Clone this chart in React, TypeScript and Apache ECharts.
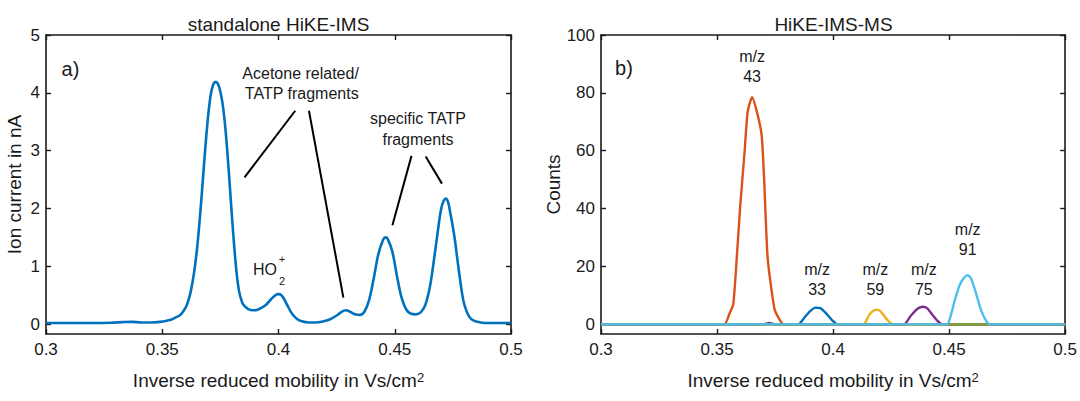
import React, { useEffect, useRef } from "react";
import * as echarts from "echarts";

const FONT = '"Liberation Sans", Arial, Helvetica, sans-serif';
const INK = "#1a1a1a";

// ---------- data ----------
const leftYTicks = [0, 1, 2, 3, 4, 5];
const rightYTicks = [0, 20, 40, 60, 80, 100];

// standalone HiKE-IMS spectrum (x: Vs/cm2, y: nA)
const imsX = [
  0.3, 0.31, 0.32, 0.328, 0.333, 0.337, 0.341, 0.345, 0.349, 0.352, 0.354, 0.356, 0.358, 0.36,
  0.361, 0.362, 0.363, 0.364, 0.365, 0.366, 0.367, 0.368, 0.369, 0.37, 0.371, 0.372, 0.373,
  0.374, 0.375, 0.376, 0.377, 0.378, 0.379, 0.38, 0.381, 0.382, 0.383, 0.384, 0.385, 0.387,
  0.389, 0.391, 0.393, 0.395, 0.397, 0.399, 0.4, 0.401, 0.402, 0.403, 0.404, 0.406, 0.408,
  0.41, 0.413, 0.416, 0.419, 0.422, 0.425, 0.427, 0.429, 0.431, 0.433, 0.435, 0.437, 0.439,
  0.441, 0.443, 0.445, 0.446, 0.447, 0.449, 0.451, 0.453, 0.455, 0.457, 0.459, 0.461, 0.463,
  0.465, 0.467, 0.469, 0.47, 0.471, 0.472, 0.473, 0.474, 0.475, 0.476, 0.477, 0.478, 0.479,
  0.48, 0.482, 0.484, 0.487, 0.49, 0.5,
];
const imsY = [
  0.02, 0.02, 0.02, 0.025, 0.035, 0.04, 0.03, 0.03, 0.04, 0.06, 0.08, 0.12, 0.17, 0.28,
  0.38, 0.52, 0.72, 0.98, 1.32, 1.75, 2.25, 2.78, 3.28, 3.7, 4.0, 4.15, 4.19,
  4.15, 4.02, 3.8, 3.45, 2.98, 2.42, 1.85, 1.32, 0.88, 0.58, 0.42, 0.33, 0.26,
  0.24, 0.25, 0.29, 0.35, 0.44, 0.51, 0.52, 0.51, 0.46, 0.39, 0.31, 0.17, 0.09,
  0.05, 0.03, 0.03, 0.045, 0.08, 0.15, 0.21, 0.24, 0.21, 0.17, 0.16, 0.22, 0.42,
  0.8, 1.22, 1.46, 1.5, 1.47, 1.25, 0.82, 0.45, 0.25, 0.18, 0.17, 0.2, 0.32,
  0.62, 1.15, 1.75, 2.0, 2.13, 2.17, 2.1, 1.9, 1.68, 1.42, 1.1, 0.8, 0.52,
  0.33, 0.13, 0.06, 0.03, 0.02, 0.02,
];

// HiKE-IMS-MS extracted ion mobility spectra (counts)
const mz33X = [0.3, 0.385, 0.3875, 0.39, 0.3925, 0.3945, 0.397, 0.3995, 0.402, 0.5];
const mz33Y = [0, 0, 2.2, 4.5, 5.8, 5.6, 3.8, 1.5, 0, 0];
const mz43X = [0.3, 0.353, 0.3555, 0.357, 0.3585, 0.36, 0.3619, 0.3632, 0.3651, 0.3673, 0.3692, 0.3703, 0.3718, 0.3747, 0.3769, 0.3787, 0.5];
const mz43Y = [0, 0, 4, 7, 23, 41, 60, 73.5, 78.5, 73, 65.5, 50, 23, 5.5, 1.7, 0, 0];
const mz59X = [0.3, 0.413, 0.4155, 0.4175, 0.419, 0.4205, 0.4225, 0.4245, 0.4265, 0.5];
const mz59Y = [0, 0, 3.2, 4.8, 5.1, 4.5, 2.4, 0.6, 0, 0];
const mz75X = [0.3, 0.37, 0.3725, 0.375, 0.4305, 0.4335, 0.4365, 0.4388, 0.4405, 0.4425, 0.445, 0.447, 0.5];
const mz75Y = [0, 0, 0.5, 0, 0, 3.0, 5.5, 6.1, 5.6, 3.6, 1.2, 0, 0];
const otherX = [0.3, 0.5];
const otherY = [0, 0];
const mz91X = [0.3, 0.449, 0.4505, 0.4525, 0.4545, 0.4565, 0.458, 0.4595, 0.4615, 0.4635, 0.4655, 0.4675, 0.5];
const mz91Y = [0, 0, 2.5, 8.5, 13.5, 16.2, 17.0, 15.8, 11, 5.5, 1.8, 0, 0];

// annotation texts (data coordinates)
const leftNotes = [
  { text: "Acetone related/", x: 0.4095, y: 4.34 },
  { text: "TATP fragments", x: 0.41, y: 3.99 },
  { text: "specific TATP", x: 0.46, y: 3.55 },
  { text: "fragments", x: 0.46, y: 3.2 },
];
const leftPointers = [
  [[0.3854, 2.54], [0.4072, 3.69]],
  [[0.4131, 3.69], [0.4279, 0.46]],
  [[0.4572, 2.91], [0.449, 1.71]],
  [[0.4633, 2.9], [0.4703, 2.43]],
];
const rightNotes = [
  { label: "43", x: 0.3651, y1: 92.7, y2: 85.8 },
  { label: "33", x: 0.3931, y1: 18.9, y2: 12.2 },
  { label: "59", x: 0.4182, y1: 18.9, y2: 12.2 },
  { label: "75", x: 0.4391, y1: 18.9, y2: 12.2 },
  { label: "91", x: 0.458, y1: 32.8, y2: 25.8 },
];

const zip = (xs: number[], ys: number[]) => xs.map((x, i) => [x, ys[i]]);

const GRID_W = 465;
const GRID_H = 312;
const GRID_TOP = 35;
const LEFT_G = 46;
const RIGHT_G = 601;

function xAxisCfg(gridIndex: number, position: "top" | "bottom", withLabel: boolean) {
  return {
    type: "value",
    gridIndex,
    position,
    min: 0.3,
    max: 0.5,
    interval: 0.05,
    axisLine: { show: true, onZero: false, lineStyle: { color: INK, width: 1.6 } },
    axisTick: { show: true, inside: true, length: 5, lineStyle: { color: INK, width: 1.4 } },
    axisLabel: {
      show: withLabel,
      color: INK,
      fontFamily: FONT,
      fontSize: 17,
      margin: 7,
      formatter: (v: number) => String(parseFloat(v.toFixed(2))),
    },
    splitLine: { show: false },
    name: withLabel ? "Inverse reduced mobility in Vs/cm{sup|2}" : "",
    nameLocation: "middle",
    nameGap: 37,
    nameTextStyle: {
      color: INK,
      fontFamily: FONT,
      fontSize: 19,
      rich: { sup: { fontSize: 13, fontFamily: FONT, color: INK, verticalAlign: "top", lineHeight: 13, padding: [0, 0, 12, 0] } },
    },
  };
}

function yAxisCfg(gridIndex: number, position: "left" | "right", min: number, max: number, ticks: number[], name: string, nameGap: number) {
  const withLabel = position === "left";
  return {
    type: "value",
    gridIndex,
    position,
    min,
    max,
    axisLine: { show: true, onZero: false, lineStyle: { color: INK, width: 1.6 } },
    axisTick: { show: true, inside: true, length: 5, customValues: ticks, lineStyle: { color: INK, width: 1.4 } },
    axisLabel: { show: withLabel, customValues: ticks, color: INK, fontFamily: FONT, fontSize: 17, margin: 6 },
    splitLine: { show: false },
    name: withLabel ? name : "",
    nameLocation: "middle",
    nameGap,
    nameTextStyle: { color: INK, fontFamily: FONT, fontSize: 19 },
  };
}

function line(name: string, data: number[][], color: string, xi: number, yi: number, width: number, extra: any = {}) {
  return {
    name,
    type: "line",
    xAxisIndex: xi,
    yAxisIndex: yi,
    data,
    showSymbol: false,
    symbol: "none",
    smooth: 0.35,
    lineStyle: { color, width },
    itemStyle: { color },
    ...extra,
  };
}

export default function App() {
  const ref = useRef<HTMLDivElement>(null);
  useEffect(() => {
    if (!ref.current) return;
    const chart = echarts.init(ref.current, undefined, { renderer: "svg" });
    const titleStyle = { color: INK, fontFamily: FONT, fontSize: 19, fontWeight: "normal" };
    const option: any = {
      animation: false,
      backgroundColor: "#ffffff",
      title: [
        { text: "standalone HiKE-IMS", left: LEFT_G + GRID_W / 2, top: 15, padding: 0, textAlign: "center", textStyle: titleStyle },
        { text: "HiKE-IMS-MS", left: RIGHT_G + GRID_W / 2, top: 15, padding: 0, textAlign: "center", textStyle: titleStyle },
      ],
      grid: [
        { left: LEFT_G, top: GRID_TOP, width: GRID_W, height: GRID_H },
        { left: RIGHT_G, top: GRID_TOP, width: GRID_W, height: GRID_H },
      ],
      xAxis: [xAxisCfg(0, "bottom", true), xAxisCfg(0, "top", false), xAxisCfg(1, "bottom", true), xAxisCfg(1, "top", false)],
      yAxis: [
        yAxisCfg(0, "left", -0.17, 5, leftYTicks, "Ion current in nA", 22),
        yAxisCfg(0, "right", -0.17, 5, leftYTicks, "", 0),
        yAxisCfg(1, "left", -3.33, 100, rightYTicks, "Counts", 36),
        yAxisCfg(1, "right", -3.33, 100, rightYTicks, "", 0),
      ],
      series: [
        line("standalone HiKE-IMS", zip(imsX, imsY), "#0072BD", 0, 0, 2.6, {
          markLine: {
            silent: true,
            symbol: ["none", "none"],
            label: { show: false },
            lineStyle: { color: "#000", width: 2, type: "solid" },
            data: leftPointers.map((p) => [{ coord: p[0] }, { coord: p[1] }]),
          },
        }),
        line("m/z 33", zip(mz33X, mz33Y), "#0072BD", 2, 2, 2.4, { smooth: 0.2 }),
        line("m/z 43", zip(mz43X, mz43Y), "#D95319", 2, 2, 2.4, { smooth: 0.2 }),
        line("m/z 59", zip(mz59X, mz59Y), "#EDB120", 2, 2, 2.4, { smooth: 0.2 }),
        line("m/z 75", zip(mz75X, mz75Y), "#7E2F8E", 2, 2, 2.4, { smooth: 0.2 }),
        line("other", zip(otherX, otherY), "#77AC30", 2, 2, 2.4, { smooth: false }),
        line("m/z 91", zip(mz91X, mz91Y), "#4DBEEE", 2, 2, 2.4, { smooth: 0.2 }),
      ],
    };
    chart.setOption(option);

    const pL = (x: number, y: number) => chart.convertToPixel({ xAxisIndex: 0, yAxisIndex: 0 }, [x, y]) as number[];
    const pR = (x: number, y: number) => chart.convertToPixel({ xAxisIndex: 2, yAxisIndex: 2 }, [x, y]) as number[];
    const txt = (pos: number[], text: string, size: number, align = "center") => ({
      type: "text",
      x: pos[0],
      y: pos[1],
      silent: true,
      style: { text, fontSize: size, fontFamily: FONT, fill: INK, align, verticalAlign: "middle" },
    });
    const graphic: any[] = [];
    graphic.push(txt(pL(0.3105, 4.415), "a)", 20));
    graphic.push(txt(pR(0.3099, 88.5), "b)", 20));
    leftNotes.forEach((n) => graphic.push(txt(pL(n.x, n.y), n.text, 16)));
    graphic.push(txt(pL(0.3942, 0.94), "HO", 16));
    graphic.push(txt(pL(0.4015, 1.12), "+", 11));
    graphic.push(txt(pL(0.4015, 0.75), "2", 11));
    rightNotes.forEach((n) => {
      graphic.push(txt(pR(n.x, n.y1), "m/z", 16));
      graphic.push(txt(pR(n.x, n.y2), n.label, 16));
    });
    chart.setOption({ graphic });

    return () => chart.dispose();
  }, []);
  return <div ref={ref} style={{ position: "fixed", left: 0, top: 0, width: 1080, height: 401 }} />;
}
